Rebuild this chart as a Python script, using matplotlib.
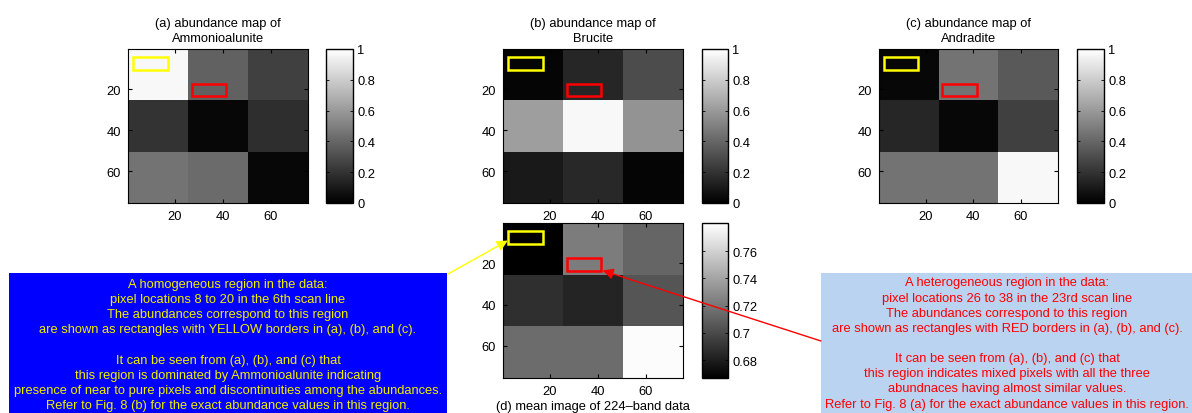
import numpy as np
import matplotlib
matplotlib.use("Agg")
import matplotlib.pyplot as plt
from matplotlib.patches import Rectangle, ConnectionPatch
from matplotlib.ticker import FuncFormatter

plt.rcParams['font.family'] = ['Liberation Sans', 'DejaVu Sans']
FS = 9.3
plt.rcParams['font.size'] = FS

# 3x3 block abundances (each block is 25x25 pixels of the 75x75 scene)
names = ["Ammonioalunite", "Brucite", "Andradite"]
labels = ["(a)", "(b)", "(c)"]
abund_ammonioalunite = [[0.97, 0.38, 0.25],
                        [0.20, 0.03, 0.18],
                        [0.45, 0.42, 0.03]]
abund_brucite = [[0.02, 0.15, 0.30],
                 [0.62, 0.97, 0.58],
                 [0.10, 0.16, 0.02]]
abund_andradite = [[0.03, 0.45, 0.35],
                   [0.15, 0.03, 0.25],
                   [0.45, 0.45, 0.97]]
mean_image = [[0.667, 0.722, 0.712],
              [0.688, 0.683, 0.705],
              [0.715, 0.715, 0.779]]
mean_range = (0.6668, 0.7806)
n_pix = 75
axis_ticks = [20, 40, 60]
abund_ticks = [0, 0.2, 0.4, 0.6, 0.8, 1]
mean_ticks = [0.68, 0.70, 0.72, 0.74, 0.76]

# regions marked in the maps: (x, y, width, height) in pixel units
yellow_rect = (2.5, 4.5, 14.5, 6)
red_rect = (27, 17.5, 14.5, 6)

text_homog = ("A homogeneous region in the data:\n"
              "pixel locations 8 to 20 in the 6th scan line\n"
              "The abundances correspond to this region\n"
              "are shown as rectangles with YELLOW borders in (a), (b), and (c).\n"
              "\n"
              "It can be seen from (a), (b), and (c) that\n"
              "this region is dominated by Ammonioalunite indicating\n"
              "presence of near to pure pixels and discontinuities among the abundances.\n"
              "Refer to Fig. 8 (b) for the exact abundance values in this region.")
text_hetero = ("A heterogeneous region in the data:\n"
               "pixel locations 26 to 38 in the 23rd scan line\n"
               "The abundances correspond to this region\n"
               "are shown as rectangles with RED borders in (a), (b), and (c).\n"
               "\n"
               "It can be seen from (a), (b), and (c) that\n"
               "this region indicates mixed pixels with all the three\n"
               "abundnaces having almost similar values.\n"
               "Refer to Fig. 8 (a) for the exact abundance values in this region.")

W, H = 1192, 414
fig = plt.figure(figsize=(W / 100, H / 100), dpi=100)


def px_axes(x0, x1, y0, y1):
    # axes from image pixel box (top-left origin)
    return fig.add_axes([x0 / W, 1 - y1 / H, (x1 - x0) / W, (y1 - y0) / H])


fmt = FuncFormatter(lambda v, p: "%g" % round(v, 4))


def draw_map(ax, cax, data, vmin, vmax, cticks, rects=True):
    ext = (0.5, n_pix + 0.5, n_pix + 0.5, 0.5)
    im = ax.imshow(np.array(data), cmap="gray", vmin=vmin, vmax=vmax,
                   extent=ext, aspect="auto", interpolation="nearest")
    ax.set_xlim(0.5, n_pix + 0.5)
    ax.set_ylim(n_pix + 0.5, 0.5)
    ax.set_xticks(axis_ticks)
    ax.set_yticks(axis_ticks)
    ax.tick_params(direction="in", top=True, right=True, length=3,
                   labelsize=FS, pad=5)
    if rects:
        ax.add_patch(Rectangle(yellow_rect[:2], *yellow_rect[2:], fill=False,
                               edgecolor="yellow", lw=1.8))
        ax.add_patch(Rectangle(red_rect[:2], *red_rect[2:], fill=False,
                               edgecolor="red", lw=1.8))
    cb = fig.colorbar(im, cax=cax)
    cb.set_ticks(cticks)
    cb.ax.yaxis.set_major_formatter(fmt)
    cax.tick_params(direction="in", left=True, right=True, length=2,
                    labelsize=FS, width=0.6, pad=3)
    cb.outline.set_linewidth(1)
    return im


panels = [(128, 308, 326, 353), (503, 683, 702, 728), (879, 1058, 1077, 1104)]
maps = [abund_ammonioalunite, abund_brucite, abund_andradite]
for (x0, x1, c0, c1), data, lab, name in zip(panels, maps, labels, names):
    ax = px_axes(x0, x1, 50, 204)
    cax = px_axes(c0, c1, 50, 204)
    draw_map(ax, cax, data, 0, 1, abund_ticks)
    ax.set_title(lab + " abundance map of\n" + name, fontsize=FS, pad=6,
                 linespacing=1.35)

ax_d = px_axes(503, 683, 224, 379)
cax_d = px_axes(702, 728, 224, 379)
draw_map(ax_d, cax_d, mean_image, mean_range[0], mean_range[1], mean_ticks)
ax_d.set_xlabel("(d) mean image of 224\u2013band data", fontsize=FS, labelpad=2)

# text boxes
fig.add_artist(Rectangle((9 / W, 0), 438 / W, (H - 274) / H,
                         transform=fig.transFigure, facecolor="#0000ff",
                         edgecolor="none", zorder=0))
fig.text(228 / W, 1 - 345.5 / H, text_homog, color="#f0f000", ha="center",
         va="center", fontsize=FS, linespacing=1.35)
fig.add_artist(Rectangle((821 / W, 0), (W - 821) / W, (H - 274) / H,
                         transform=fig.transFigure, facecolor="#b9d3f1",
                         edgecolor="none", zorder=0))
fig.text(1007 / W, 1 - 344 / H, text_hetero, color="red", ha="center",
         va="center", fontsize=FS, linespacing=1.35)

# arrows from the boxes to the marked regions in (d)
arrow_y = ConnectionPatch(xyA=(448, H - 275), coordsA="figure pixels",
                          xyB=(2.5, 9), coordsB=ax_d.transData,
                          arrowstyle="-|>", mutation_scale=16, color="yellow",
                          lw=1)
arrow_r = ConnectionPatch(xyA=(821, H - 342), coordsA="figure pixels",
                          xyB=(42, 23.5), coordsB=ax_d.transData,
                          arrowstyle="-|>", mutation_scale=16, color="red",
                          lw=1)
fig.add_artist(arrow_y)
fig.add_artist(arrow_r)

fig.savefig("out.png", dpi=100)
